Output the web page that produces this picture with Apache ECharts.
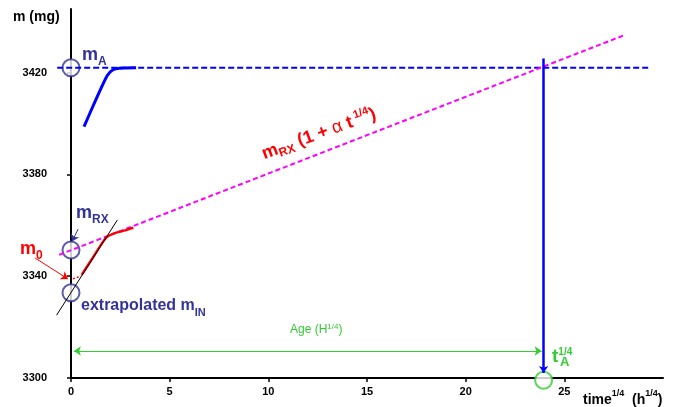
<!DOCTYPE html>
<html>
<head>
<meta charset="utf-8">
<script src="https://cdn.jsdelivr.net/npm/echarts@6/dist/echarts.min.js"></script>
<style>
  html, body { margin: 0; padding: 0; background: #fff; }
  #chart { width: 681px; height: 407px; }
</style>
</head>
<body>
<div id="chart"></div>
<script>
// axis ticks
const xTicks = [0, 5, 10, 15, 20, 25];
const yTicks = [3300, 3340, 3380, 3420];

// key values
const mA = 3421.9;
const mRX = 3350.3;
const mIN = 3333.5;
const tA = 23.95;

// saturation curve (blue) and early uptake curve (red)
const satX = [0.66, 1.25, 1.83, 2.13, 2.45, 3.3];
const satY = [3398.8, 3409.2, 3418.8, 3421.1, 3421.7, 3421.9];
const rxX = [0.54, 1.1, 1.6, 1.85, 2.3, 2.75, 3.16];
const rxY = [3340.5, 3347.2, 3353.3, 3355.6, 3357.1, 3358.0, 3359.1];
const m0X = [0.1, 0.5];
const m0Y = [3339.0, 3340.0];

// straight guide lines
const mALineX = [-0.7, 29.3];
const trendX = [-0.6, 28.1];
const trendY = [3348.4, 3434.9];
const tangentX = [-0.73, 2.35];
const tangentY = [3324.7, 3362.1];
const ageY = 3310.6;

const navy = '#333399';
const green = '#33cc33';
const font = '"Liberation Sans", Arial, sans-serif';

const zip = (xs, ys) => xs.map((x, i) => [x, ys[i]]);

const chart = echarts.init(document.getElementById('chart'));

// visible axes span x 0..30; an invisible twin grid with the same scale
// reaches x = -2 so marks left of the y axis can be drawn
const X_MIN = 0, X_MAX = 30, X_PAD = 2;
const Y_MIN = 3300, Y_MAX = 3445;
const gLeft = 71, gRight = 18;
const unit = (681 - gLeft - gRight) / (X_MAX - X_MIN);

const hidden = { show: false };

const option = {
  animation: false,
  grid: [
    { left: gLeft, right: gRight, top: 9, bottom: 29, containLabel: false },
    { left: gLeft - X_PAD * unit, right: gRight, top: 9, bottom: 29, containLabel: false }
  ],
  xAxis: [
    {
      type: 'value', gridIndex: 0,
      min: X_MIN,
      max: X_MAX,
      axisLine: { onZero: false, lineStyle: { color: '#000', width: 2 } },
      axisTick: { customValues: xTicks, length: 4, lineStyle: { color: '#000', width: 1.5 } },
      axisLabel: { customValues: xTicks, margin: 8, color: '#000', fontWeight: 'bold', fontSize: 11, fontFamily: font },
      splitLine: { show: false }
    },
    {
      type: 'value', gridIndex: 1, min: X_MIN - X_PAD, max: X_MAX,
      axisLine: hidden, axisTick: hidden, axisLabel: hidden, splitLine: hidden
    }
  ],
  yAxis: [
    {
      type: 'value', gridIndex: 0,
      min: Y_MIN,
      max: Y_MAX,
      axisLine: { show: true, onZero: false, lineStyle: { color: '#000', width: 2 } },
      axisTick: { show: true, customValues: yTicks, length: 4, lineStyle: { color: '#000', width: 1.5 } },
      axisLabel: {
        customValues: yTicks, margin: 24, color: '#000', fontWeight: 'bold', fontSize: 11, fontFamily: font,
        padding: [2, 0, 0, 0],
        formatter: v => String(v)
      },
      splitLine: { show: false }
    },
    {
      type: 'value', gridIndex: 1, min: Y_MIN, max: Y_MAX,
      axisLine: hidden, axisTick: hidden, axisLabel: hidden, splitLine: hidden
    }
  ],
  series: [
    {
      type: 'line', xAxisIndex: 1, yAxisIndex: 1, clip: false, symbol: 'none', silent: true,
      data: zip(mALineX, [mA, mA]),
      lineStyle: { color: '#0000ff', width: 2, type: [6, 3] }
    },
    {
      type: 'line', xAxisIndex: 1, yAxisIndex: 1, clip: false, symbol: 'none', silent: true,
      data: zip(trendX, trendY),
      lineStyle: { color: '#ff00ff', width: 2, type: [5, 3] }
    },
    {
      type: 'line', xAxisIndex: 1, yAxisIndex: 1, clip: false, symbol: 'none', silent: true, smooth: 0.2,
      data: zip(satX, satY),
      lineStyle: { color: '#0000ff', width: 3 }
    },
    {
      type: 'line', xAxisIndex: 1, yAxisIndex: 1, clip: false, symbol: 'none', silent: true, smooth: 0.2,
      data: zip(rxX, rxY),
      lineStyle: { color: '#ff0000', width: 2.5 }
    },
    {
      type: 'line', xAxisIndex: 1, yAxisIndex: 1, clip: false, symbol: 'none', silent: true,
      data: zip(tangentX, tangentY),
      lineStyle: { color: '#000', width: 1 }
    },
    {
      type: 'line', xAxisIndex: 1, yAxisIndex: 1, clip: false, symbol: 'none', silent: true,
      data: zip(m0X, m0Y),
      lineStyle: { color: '#ff0000', width: 1.5, type: [2, 2] },
      markLine: {
        silent: true,
        label: { show: false },
        symbol: ['none', 'arrow'],
        symbolSize: 7,
        data: [
          [{ coord: [tA, 3425.5], lineStyle: { color: '#0000ff', width: 2.5, type: 'solid' } }, { coord: [tA, 3302] }],
          [{ coord: [-1.83, 3347.2], lineStyle: { color: '#ff0000', width: 1, type: 'solid' } }, { coord: [-0.15, 3338.9] }],
          [{ coord: [0.36, 3358.5], lineStyle: { color: navy, width: 1, type: 'solid' } }, { coord: [0.05, 3353.6] }],
          [{ coord: [0.15, ageY], symbol: 'arrow', lineStyle: { color: green, width: 1, type: 'solid' } }, { coord: [tA - 0.1, ageY] }]
        ]
      }
    },
    {
      type: 'scatter', xAxisIndex: 1, yAxisIndex: 1, clip: false, silent: true,
      symbol: 'emptyCircle', symbolSize: 17,
      data: [[0, mA], [0, mRX], [0, mIN]],
      itemStyle: { color: navy, borderColor: navy, borderWidth: 2 }
    },
    {
      type: 'scatter', xAxisIndex: 1, yAxisIndex: 1, clip: false, silent: true,
      symbol: 'emptyCircle', symbolSize: 17,
      data: [[tA, 3299.1]],
      itemStyle: { color: green, borderColor: green, borderWidth: 2 }
    }
  ],
  graphic: [
    {
      type: 'text', x: 13, y: 17,
      style: { text: 'm (mg)', font: 'bold 14px ' + font, fill: '#000', verticalAlign: 'middle' }
    },
    {
      type: 'text', x: 82, y: 57,
      style: {
        text: '{m|m}{s|A}', verticalAlign: 'middle', fill: navy,
        rich: {
          m: { font: 'bold 18px ' + font, fill: navy, lineHeight: 22, verticalAlign: 'top' },
          s: { font: 'bold 12px ' + font, fill: navy, lineHeight: 22, verticalAlign: 'bottom' }
        }
      }
    },
    {
      type: 'text', x: 76, y: 215,
      style: {
        text: '{m|m}{s|RX}', verticalAlign: 'middle', fill: navy,
        rich: {
          m: { font: 'bold 18px ' + font, fill: navy, lineHeight: 22, verticalAlign: 'top' },
          s: { font: 'bold 12px ' + font, fill: navy, lineHeight: 22, verticalAlign: 'bottom' }
        }
      }
    },
    {
      type: 'text', x: 20, y: 251,
      style: {
        text: '{m|m}{s|0}', verticalAlign: 'middle', fill: '#ff0000',
        rich: {
          m: { font: 'bold 18px ' + font, fill: '#ff0000', lineHeight: 22, verticalAlign: 'top' },
          s: { font: 'bold 12px ' + font, fill: '#ff0000', lineHeight: 22, verticalAlign: 'bottom' }
        }
      }
    },
    {
      type: 'text', x: 81, y: 308,
      style: {
        text: '{m|extrapolated m}{s|IN}', verticalAlign: 'middle', fill: navy,
        rich: {
          m: { font: 'bold 16px ' + font, fill: navy, lineHeight: 20, verticalAlign: 'top' },
          s: { font: 'bold 11px ' + font, fill: navy, lineHeight: 20, verticalAlign: 'bottom' }
        }
      }
    },
    {
      type: 'text', x: 319, y: 134, rotation: 20 * Math.PI / 180,
      style: {
        text: '{m|m}{s|RX}{m| (1 + }{a|α}{m| t}{p| 1/4}{m|)}', align: 'center', verticalAlign: 'middle', fill: '#ff0000',
        rich: {
          m: { font: 'bold 18px ' + font, fill: '#ff0000', lineHeight: 22, verticalAlign: 'middle' },
          a: { font: '18px ' + font, fill: '#ff0000', lineHeight: 22, verticalAlign: 'middle' },
          s: { font: 'bold 12px ' + font, fill: '#ff0000', lineHeight: 22, verticalAlign: 'bottom' },
          p: { font: 'bold 11px ' + font, fill: '#ff0000', lineHeight: 22, verticalAlign: 'top' }
        }
      }
    },
    {
      type: 'text', x: 290, y: 330,
      style: {
        text: '{m|Age (H}{p|1/4}{m|)}', verticalAlign: 'middle', fill: green,
        rich: {
          m: { font: '12px ' + font, fill: green, lineHeight: 14, verticalAlign: 'middle' },
          p: { font: '8px ' + font, fill: green, lineHeight: 14, verticalAlign: 'top' }
        }
      }
    },
    {
      type: 'text', x: 552, y: 357,
      style: {
        text: '{t|t}{p|1/4}\n{e| }{s|A}', verticalAlign: 'middle', fill: green,
        rich: {
          t: { font: 'bold 19px ' + font, fill: green, lineHeight: 10, verticalAlign: 'top' },
          p: { font: 'bold 10px ' + font, fill: green, lineHeight: 10, verticalAlign: 'top' },
          e: { font: 'bold 13px ' + font, fill: green, lineHeight: 10, width: 8 },
          s: { font: 'bold 13px ' + font, fill: green, lineHeight: 10 }
        }
      }
    },
    {
      type: 'text', x: 583, y: 398,
      style: {
        text: '{m|time}{p|1/4}{m|  (h}{p|1/4}{m|)}', verticalAlign: 'middle', fill: '#000',
        rich: {
          m: { font: 'bold 14px ' + font, fill: '#000', lineHeight: 18, verticalAlign: 'bottom' },
          p: { font: 'bold 9px ' + font, fill: '#000', lineHeight: 18, verticalAlign: 'top' }
        }
      }
    }
  ]
};

chart.setOption(option);
</script>
</body>
</html>
